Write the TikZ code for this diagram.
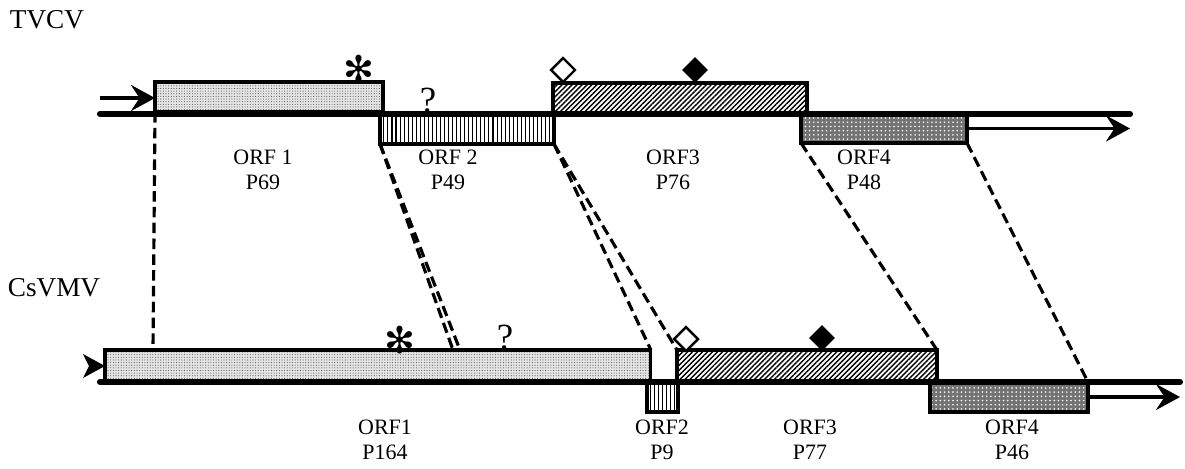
\documentclass[tikz,border=0pt]{standalone}
\usepackage{fontspec}
\setmainfont{Liberation Serif}
\newfontfamily\symfont{DejaVu Sans}
\usetikzlibrary{arrows.meta,positioning,shapes.geometric,patterns.meta}

\begin{document}
\begin{tikzpicture}[
  x=0.02cm, y=-0.02cm,
  orfbox/.style={
    draw,
    line width=1.8pt,
    inner sep=0pt,
    outer sep=0pt,
    anchor=north west
  },
  orfone/.style={orfbox,preaction={fill=black!10},
    pattern={Dots[distance=1.5pt,radius=0.32pt]},pattern color=black!65},
  orftwo/.style={orfbox,pattern={Lines[angle=90,distance=2.3pt,line width=0.6pt]}},
  orfthree/.style={orfbox,pattern={Lines[angle=45,distance=2pt,line width=0.8pt]}},
  orffour/.style={orfbox,preaction={fill=black!55},
    pattern={Dots[distance=2.4pt,radius=0.5pt]},pattern color=white},
  genome/.style={line width=3.5pt,line cap=round},
  fwd/.style={-{Stealth[length=0.48cm,width=0.52cm,inset=0.17cm]},line width=2pt},
  link/.style={line width=1.8pt,dash pattern=on 6pt off 3pt},
  orflabel/.style={align=center,font=\fontsize{12.5}{14.2}\selectfont},
  virus/.style={font=\fontsize{15.5}{18}\selectfont},
  opensite/.style={diamond,draw,line width=1.4pt,inner sep=0pt,minimum size=0.5cm,fill=white},
  fullsite/.style={diamond,fill=black,inner sep=0pt,minimum size=0.52cm},
  asterisk/.style={font=\symfont\bfseries\fontsize{21}{21}\selectfont,inner sep=0pt},
  query/.style={font=\fontsize{21}{21}\selectfont,inner sep=0pt,anchor=base}
]
  \useasboundingbox (0,0) rectangle (1185,468);

  % TVCV genome
  \node[virus] (tvcv) at (47,20) {TVCV};
  \node[orfone,minimum width=4.56cm,minimum height=0.6cm] (torf1) at (155,82) {};
  \node[orftwo,minimum width=3.48cm,minimum height=0.6cm] (torf2) at (380,114) {};
  \node[orfthree,minimum width=5.08cm,minimum height=0.62cm] (torf3) at (553,83) {};
  \node[orffour,minimum width=3.32cm,minimum height=0.58cm] (torf4) at (801,114) {};

  \coordinate (tvcvstart) at (100,114);
  \coordinate (tvcvend) at (1130,114);
  \coordinate (tvcvin) at (100,98);
  \draw[genome] (tvcvstart) -- (tvcvend);
  \draw[fwd] (tvcvin) -- (tvcvin -| torf1.west);
  \draw[fwd] (torf4.east) -- (torf4.east -| tvcvend);

  \node[asterisk] (tstar) at (359,69) {✻};
  \node[query] (tquery) at (428,112) {?};
  \node[opensite] (topen) at (563,70) {};
  \node[fullsite] (tfull) at (695,70) {};

  \node[orflabel] (torf1lab) at (263,170) {ORF 1\\P69};
  \node[orflabel] (torf2lab) at (448,170) {ORF 2\\P49};
  \node[orflabel] (torf3lab) at (673,170) {ORF3\\P76};
  \node[orflabel] (torf4lab) at (864,170) {ORF4\\P48};

  % CsVMV genome
  \node[virus] (csvmv) at (54,288) {CsVMV};
  \node[orfone,minimum width=10.92cm,minimum height=0.64cm] (corf1) at (105,350) {};
  \node[orftwo,minimum width=0.62cm,minimum height=0.6cm] (corf2) at (647,382) {};
  \node[orfthree,minimum width=5.2cm,minimum height=0.64cm] (corf3) at (677,350) {};
  \node[orffour,minimum width=3.16cm,minimum height=0.6cm] (corf4) at (930,382) {};

  \coordinate (csvmvstart) at (100,382);
  \coordinate (csvmvend) at (1180,382);
  \draw[genome] (csvmvstart) -- (csvmvend);
  \fill (corf1.west) -- ++(-22,-12) -- ++(6,12) -- ++(-6,12) -- cycle;
  \draw[fwd] (corf4.east) -- (corf4.east -| csvmvend);

  \node[asterisk] (cstar) at (400,340) {✻};
  \node[query] (cquery) at (505,349) {?};
  \node[opensite] (copen) at (686,339) {};
  \node[fullsite] (cfull) at (822,338) {};

  \node[orflabel] (corf1lab) at (385,440) {ORF1\\P164};
  \node[orflabel] (corf2lab) at (662,440) {ORF2\\P9};
  \node[orflabel] (corf3lab) at (810,440) {ORF3\\P77};
  \node[orflabel] (corf4lab) at (1012,440) {ORF4\\P46};

  % correspondences
  \coordinate (orf1hit) at (153,350);
  \coordinate (orf2hitA) at (453,350);
  \coordinate (orf2hitB) at (460,350);
  \draw[link] (torf1.south west) -- (orf1hit);
  \draw[link] (torf2.south west) -- (orf2hitA);
  \draw[link] (torf2.south west) -- (orf2hitB);
  \draw[link] (torf2.south east) -- (corf1.north east);
  \draw[link] (torf2.south east) -- (corf3.north west);
  \draw[link] (torf4.south west) -- (corf3.north east);
  \draw[link] (torf4.south east) -- (corf4.north east);
\end{tikzpicture}
\end{document}
